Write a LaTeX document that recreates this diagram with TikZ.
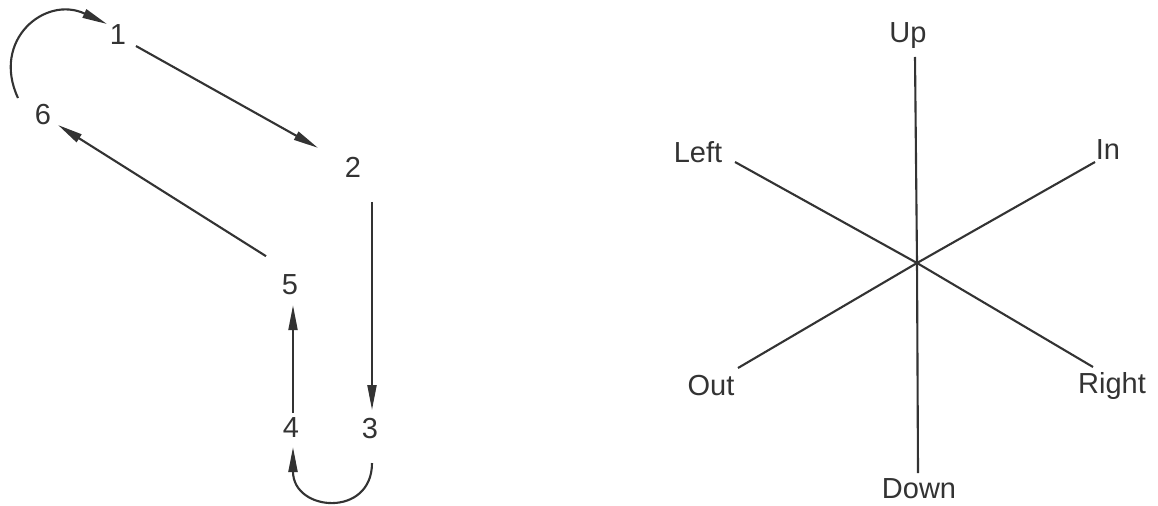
\documentclass[tikz,border=0pt]{standalone}
\usepackage{fontspec}
\setmainfont{Liberation Sans}
\usetikzlibrary{arrows.meta}
\usetikzlibrary{calc}

\tikzset{
	step number/.style={
		font=\fontsize{16.5}{18}\selectfont, text=black!80, anchor=base, inner sep=0pt
	},
	axis name/.style={
		font=\fontsize{16.5}{18}\selectfont, text=black!80, anchor=base, inner sep=0pt
	},
	flow/.style={
		draw=black!80, line width=1.2pt, -{Triangle[length=5mm,width=1.8mm]}
	},
	spoke/.style={
		draw=black!80, line width=1.2pt
	}
}

\begin{document}
\begin{tikzpicture}[x=0.02cm, y=-0.02cm]
    \useasboundingbox (0,0) rectangle (1158,506);

    % the six steps of the loop
    \node[step number] (n1) at (118,45) {1};
    \node[step number] (n2) at (353,178) {2};
    \node[step number] (n3) at (370,438) {3};
    \node[step number] (n4) at (291,437) {4};
    \node[step number] (n5) at (290,295) {5};
    \node[step number] (n6) at (43,125) {6};

    \draw [flow] ([shift={(18,11)}]n1.center) -- ([shift={(-35,-20)}]n2.center);
    \draw [flow] ([shift={(19,34)}]n2.center) -- ([shift={(2,-18)}]n3.center);
    \draw [flow] ([shift={(2,35)}]n3.center) .. controls +(0,55) and +(0,65) .. ([shift={(2,20)}]n4.center);
    \draw [flow] ([shift={(2,-14)}]n4.center) -- ([shift={(3,20)}]n5.center);
    \draw [flow] ([shift={(-24,-29)}]n5.center) -- ([shift={(15,10)}]n6.center);
    \draw [flow] ([shift={(-25,-17)}]n6.center) .. controls +(-27,-58) and +(-62,-29) .. ([shift={(-11,-11)}]n1.center);

    % the six directions
    \coordinate (ctr) at (917,263);
    \coordinate (Up-end) at (915,57);
    \coordinate (Down-end) at (918,473);
    \coordinate (Left-end) at (735,162);
    \coordinate (In-end) at (1095,162);
    \coordinate (Out-end) at (738,368);
    \coordinate (Right-end) at (1093,367);

    \node[axis name] (Up) at (908,43) {Up};
    \node[axis name] (Down) at (919,498) {Down};
    \node[axis name] (Left) at (698,163) {Left};
    \node[axis name] (In) at (1108,160) {In};
    \node[axis name] (Out) at (711,395) {Out};
    \node[axis name] (Right) at (1112,393) {Right};

    \foreach \d in {Up,Down,Left,In,Out,Right}
        \draw [spoke] (ctr) -- (\d-end);
\end{tikzpicture}
\end{document}
